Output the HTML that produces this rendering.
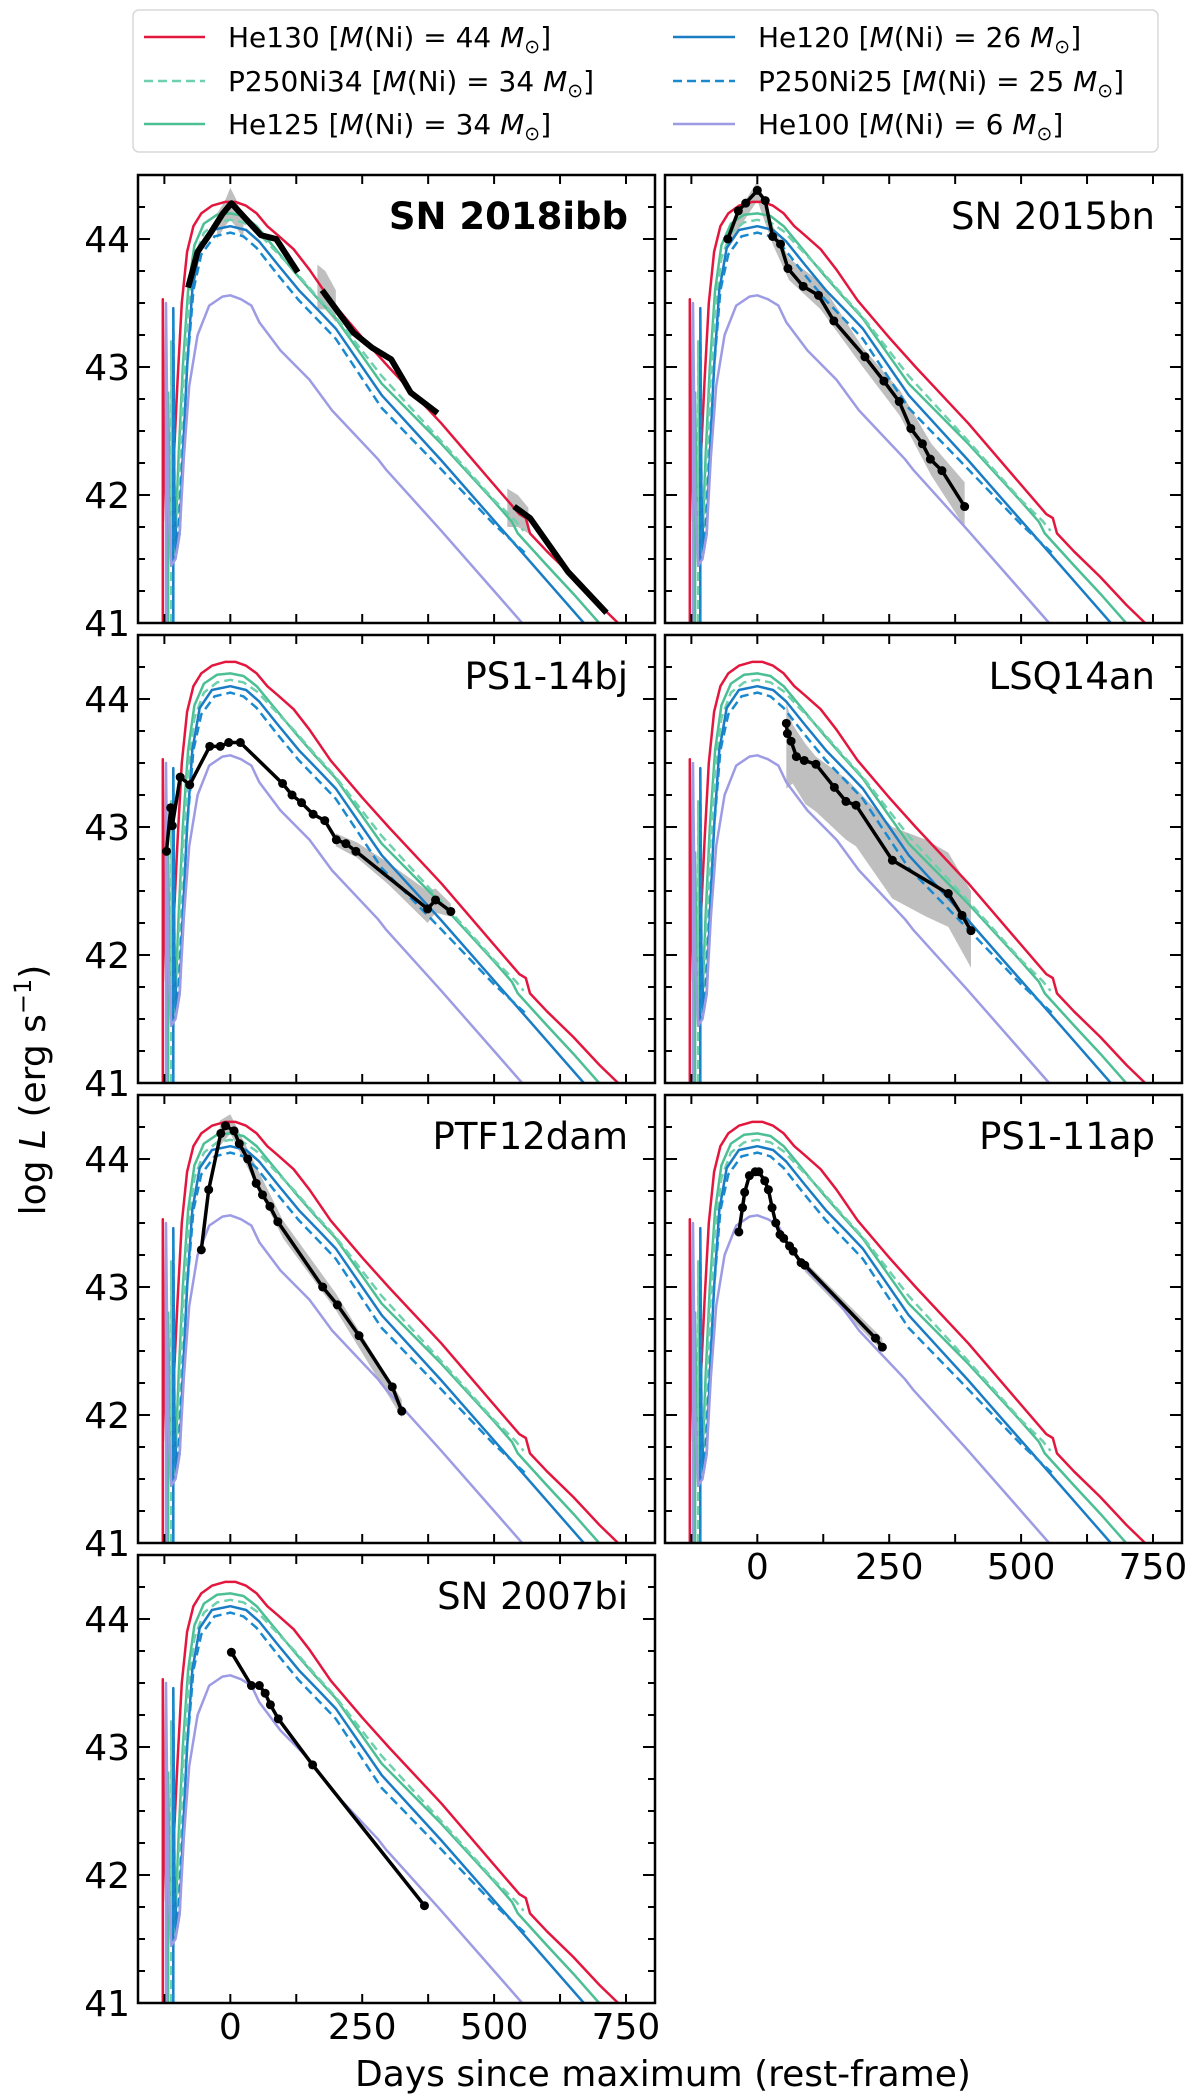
<!DOCTYPE html>
<html><head><meta charset="utf-8"><title>PISN light curves</title>
<style>
html,body{margin:0;padding:0;background:#fff;}
svg{display:block;font-family:"DejaVu Sans","Liberation Sans",sans-serif;}
</style></head>
<body>
<svg id="fig" width="1200" height="2100" viewBox="0 0 1200 2100" xmlns="http://www.w3.org/2000/svg">
<rect x="0" y="0" width="1200" height="2100" fill="#fff"/>
<g>
<rect x="133" y="10" width="1025" height="142" rx="6" fill="#fff" stroke="#d8d8d8" stroke-width="1.5"/>
<g><line x1="144" y1="37" x2="205" y2="37" stroke="#e3173e" stroke-width="2.5"/><text x="228" y="47" font-size="28">He130 [<tspan font-style="italic">M</tspan>(Ni) = 44 <tspan font-style="italic">M</tspan><tspan font-size="19" dy="6">⊙</tspan><tspan dy="-6">]</tspan></text></g>
<g><line x1="144" y1="81" x2="205" y2="81" stroke="#6fd0ad" stroke-width="2.5" stroke-dasharray="9,5"/><text x="228" y="91" font-size="28">P250Ni34 [<tspan font-style="italic">M</tspan>(Ni) = 34 <tspan font-style="italic">M</tspan><tspan font-size="19" dy="6">⊙</tspan><tspan dy="-6">]</tspan></text></g>
<g><line x1="144" y1="124" x2="205" y2="124" stroke="#4cbf94" stroke-width="2.5"/><text x="228" y="134" font-size="28">He125 [<tspan font-style="italic">M</tspan>(Ni) = 34 <tspan font-style="italic">M</tspan><tspan font-size="19" dy="6">⊙</tspan><tspan dy="-6">]</tspan></text></g>
<g><line x1="673" y1="37" x2="735" y2="37" stroke="#1a7cc4" stroke-width="2.5"/><text x="758" y="47" font-size="28">He120 [<tspan font-style="italic">M</tspan>(Ni) = 26 <tspan font-style="italic">M</tspan><tspan font-size="19" dy="6">⊙</tspan><tspan dy="-6">]</tspan></text></g>
<g><line x1="673" y1="81" x2="735" y2="81" stroke="#1a8ad0" stroke-width="2.5" stroke-dasharray="9,5"/><text x="758" y="91" font-size="28">P250Ni25 [<tspan font-style="italic">M</tspan>(Ni) = 25 <tspan font-style="italic">M</tspan><tspan font-size="19" dy="6">⊙</tspan><tspan dy="-6">]</tspan></text></g>
<g><line x1="673" y1="124" x2="735" y2="124" stroke="#9d9be3" stroke-width="2.5"/><text x="758" y="134" font-size="28">He100 [<tspan font-style="italic">M</tspan>(Ni) = 6 <tspan font-style="italic">M</tspan><tspan font-size="19" dy="6">⊙</tspan><tspan dy="-6">]</tspan></text></g>
</g>
<text transform="translate(45,1090) rotate(-90)" text-anchor="middle" font-size="36">log <tspan font-style="italic">L</tspan> (erg s<tspan font-size="24" dy="-14">−1</tspan><tspan dy="14">)</tspan></text>
<text x="663" y="2086" text-anchor="middle" font-size="36">Days since maximum (rest-frame)</text>
<g id="panels"></g>
</svg>
<script>
// ---- model light curves (day since max, log L) ----
const he130Days = [-128,-128,-126,-122,-116,-108,-100,-92,-82,-70,-55,-35,-10,10,30,50,70,90,120,150,190,250,300,400,500,548,560,568,600,650,700,735];
const he130Lum  = [41.0,43.53,42.5,41.8,41.7,42.2,42.9,43.5,43.9,44.1,44.2,44.26,44.29,44.29,44.26,44.2,44.1,44.03,43.92,43.76,43.52,43.23,43.0,42.56,42.08,41.85,41.82,41.7,41.56,41.36,41.14,41.0];
const he125Days = [-118,-118,-114,-110,-104,-98,-90,-80,-68,-50,-25,0,25,50,80,120,160,200,287,400,500,534,545,600,650,699];
const he125Lum  = [41.0,42.8,41.7,41.55,41.7,42.3,43.0,43.6,43.95,44.12,44.19,44.2,44.18,44.1,43.95,43.75,43.56,43.38,42.87,42.4,41.95,41.79,41.7,41.45,41.23,41.0];
const p34Days = [-112,-112,-110,-104,-98,-90,-80,-68,-50,-25,0,25,50,80,120,160,200,287,400,500,540,556];
const p34Lum  = [41.0,43.2,41.6,41.55,42.0,42.8,43.45,43.85,44.05,44.13,44.15,44.13,44.06,43.93,43.76,43.57,43.39,42.93,42.42,41.96,41.8,41.72];
const he120Days = [-108,-108,-106,-102,-96,-90,-82,-72,-58,-35,0,30,55,90,130,170,200,287,400,500,530,600,670];
const he120Lum  = [41.0,43.46,42.0,41.55,41.7,42.3,43.0,43.6,43.93,44.07,44.1,44.07,43.98,43.8,43.6,43.43,43.3,42.78,42.27,41.8,41.66,41.33,41.0];
const p25Days = [-108,-108,-105,-100,-92,-82,-70,-55,-30,0,25,50,90,130,170,200,287,400,500,558];
const p25Lum  = [41.0,43.4,41.6,41.6,42.2,43.0,43.6,43.88,44.02,44.05,44.02,43.93,43.72,43.52,43.35,43.22,42.68,42.2,41.77,41.55];
const he100Days = [-122,-122,-118,-112,-104,-96,-88,-78,-62,-40,-15,0,20,40,55,95,150,193,280,295,400,500,553];
const he100Lum  = [41.0,43.5,42.0,41.45,41.5,41.7,42.3,42.85,43.25,43.48,43.55,43.56,43.53,43.48,43.35,43.13,42.9,42.66,42.28,42.2,41.72,41.25,41.0];

// ---- observed light curves (null = gap) ----
const sn2018ibbDays = [-80,-62,-37,-14,2,58,87,128,null,174,233,269,305,342,393,null,538,568,640,713];
const sn2018ibbLum  = [43.62,43.9,44.05,44.2,44.28,44.03,44.0,43.74,null,43.6,43.27,43.15,43.06,42.8,42.64,null,41.91,41.82,41.4,41.08];
const sn2015bnDays = [-56,-36,-22,0,15,29,44,58,87,116,145,204,240,269,291,313,328,350,393];
const sn2015bnLum  = [44.0,44.22,44.28,44.38,44.3,44.02,43.96,43.77,43.63,43.56,43.36,43.08,42.89,42.73,42.52,42.4,42.28,42.19,41.91];
const ps114bjDays = [-121,-113,-110,-95,-77,-39,-19,-3,19,99,117,135,157,179,201,219,238,374,389,418];
const ps114bjLum  = [42.81,43.15,43.01,43.39,43.33,43.63,43.63,43.66,43.66,43.34,43.25,43.19,43.1,43.05,42.9,42.87,42.81,42.36,42.43,42.34];
const lsq14anDays = [55,57,64,74,89,111,146,168,187,256,362,388,405];
const lsq14anLum  = [43.81,43.73,43.67,43.55,43.52,43.49,43.31,43.2,43.17,42.74,42.48,42.31,42.19];
const ptf12damDays = [-55,-41,-18,-9,7,17,33,49,61,75,90,175,203,244,307,325];
const ptf12damLum  = [43.29,43.76,44.2,44.26,44.22,44.12,44.0,43.81,43.72,43.63,43.51,43.0,42.86,42.62,42.22,42.03];
const ps111apDays = [-35,-28,-24,-15,-4,3,14,21,28,35,43,50,61,68,83,90,224,237];
const ps111apLum  = [43.43,43.62,43.74,43.87,43.9,43.9,43.83,43.76,43.62,43.5,43.41,43.38,43.32,43.28,43.19,43.17,42.6,42.53];
const sn2007biDays = [2,40,55,66,76,91,156,368];
const sn2007biLum  = [43.74,43.48,43.48,43.42,43.33,43.22,42.86,41.76];

// ---- uncertainty bands ----
const band2018ibbDays = [-25,-10,0,10,25,null,165,180,200,null,525,545,565];
const band2018ibbLo   = [44.0,44.1,44.15,44.1,44.0,null,43.45,43.45,43.35,null,41.75,41.75,41.7];
const band2018ibbHi   = [44.2,44.3,44.4,44.32,44.15,null,43.8,43.75,43.6,null,42.05,42.0,41.9];
const band2015bnDays = [-56,0,30,60,120,200,270,330,393];
const band2015bnLo   = [43.95,44.3,43.95,43.68,43.45,43.0,42.62,42.15,41.75];
const band2015bnHi   = [44.08,44.45,44.1,43.85,43.66,43.15,42.82,42.4,42.1];
const band14bjDays = [200,240,300,374,389,418];
const band14bjLo   = [42.85,42.76,42.55,42.25,42.33,42.3];
const band14bjHi   = [42.95,42.88,42.72,42.5,42.52,42.4];
const band14anDays = [55,67,91,111,168,187,256,320,362,405];
const band14anLo   = [43.3,43.34,43.18,43.12,42.9,42.85,42.44,42.3,42.22,41.9];
const band14anHi   = [43.97,43.8,43.65,43.55,43.38,43.3,43.0,42.9,42.8,42.5];
const band12damDays = [-20,0,100,200,325];
const band12damLo   = [44.1,44.2,43.38,42.82,41.98];
const band12damHi   = [44.3,44.35,43.52,42.95,42.12];
const band11apDays = [90,237];
const band11apLo   = [43.12,42.5];
const band11apHi   = [43.2,42.6];

const yTickValues = [41,42,43,44];
const xTickLabels = [0,250,500,750];

const NS = 'http://www.w3.org/2000/svg';
const XMIN = -175, XMAX = 805, YMIN = 41, YMAX = 44.5;
const W = 517, H = 448;
const colX = [138, 665];
const rowY = [175, 635, 1095, 1555];

const models = [
  {name:'he130', d:he130Days, l:he130Lum, c:'#e3173e', dash:null},
  {name:'he125', d:he125Days, l:he125Lum, c:'#4cbf94', dash:null},
  {name:'p250ni34', d:p34Days, l:p34Lum, c:'#6fd0ad', dash:'9,5'},
  {name:'he120', d:he120Days, l:he120Lum, c:'#1a7cc4', dash:null},
  {name:'p250ni25', d:p25Days, l:p25Lum, c:'#1a8ad0', dash:'9,5'},
  {name:'he100', d:he100Days, l:he100Lum, c:'#9d9be3', dash:null}
];
const panels = [
  {label:'SN 2018ibb', bold:true, col:0,row:0, od:sn2018ibbDays, ol:sn2018ibbLum, bd:band2018ibbDays, blo:band2018ibbLo, bhi:band2018ibbHi, dots:false, ylab:true, xlab:false},
  {label:'SN 2015bn', col:1,row:0, od:sn2015bnDays, ol:sn2015bnLum, bd:band2015bnDays, blo:band2015bnLo, bhi:band2015bnHi, dots:true, ylab:false, xlab:false},
  {label:'PS1-14bj', col:0,row:1, od:ps114bjDays, ol:ps114bjLum, bd:band14bjDays, blo:band14bjLo, bhi:band14bjHi, dots:true, ylab:true, xlab:false},
  {label:'LSQ14an', col:1,row:1, od:lsq14anDays, ol:lsq14anLum, bd:band14anDays, blo:band14anLo, bhi:band14anHi, dots:true, ylab:false, xlab:false},
  {label:'PTF12dam', col:0,row:2, od:ptf12damDays, ol:ptf12damLum, bd:band12damDays, blo:band12damLo, bhi:band12damHi, dots:true, ylab:true, xlab:false},
  {label:'PS1-11ap', col:1,row:2, od:ps111apDays, ol:ps111apLum, bd:band11apDays, blo:band11apLo, bhi:band11apHi, dots:true, ylab:false, xlab:true},
  {label:'SN 2007bi', col:0,row:3, od:sn2007biDays, ol:sn2007biLum, bd:[], blo:[], bhi:[], dots:true, ylab:true, xlab:true}
];

function mk(tag, attrs, parent){
  const e = document.createElementNS(NS, tag);
  for (const k in attrs) e.setAttribute(k, attrs[k]);
  if (parent) parent.appendChild(e);
  return e;
}
function slug(s){ return s.toLowerCase().replace(/[^a-z0-9]+/g,'-'); }

const root = document.getElementById('panels');
panels.forEach((p, i) => {
  const x0 = colX[p.col], y0 = rowY[p.row];
  const sx = d => x0 + (d - XMIN) / (XMAX - XMIN) * W;
  const sy = v => y0 + H - (v - YMIN) / (YMAX - YMIN) * H;
  const g = mk('g', {}, root);
  
  
  const cp = mk('clipPath', {id:'clip'+i}, g);
  mk('rect', {x:x0, y:y0, width:W, height:H}, cp);
  const plot = mk('g', {'clip-path':'url(#clip'+i+')'}, g);

  // bands
  let seg = [];
  const flushBand = () => {
    if (seg.length > 1) {
      const pts = seg.map(k => sx(p.bd[k]) + ',' + sy(p.bhi[k]))
        .concat(seg.slice().reverse().map(k => sx(p.bd[k]) + ',' + sy(p.blo[k])));
      const poly = mk('polygon', {points: pts.join(' '), fill:'#b4b4b4', 'fill-opacity':'0.85'}, plot);
      
      
    }
    seg = [];
  };
  p.bd.forEach((d, k) => { if (d === null) flushBand(); else seg.push(k); });
  flushBand();

  // models
  models.forEach(m => {
    const pts = m.d.map((d, k) => sx(d).toFixed(1) + ',' + sy(m.l[k]).toFixed(1)).join(' ');
    const pl = mk('polyline', {points: pts, fill:'none', stroke:m.c, 'stroke-width':'2.5', 'stroke-linejoin':'round'}, plot);
    if (m.dash) pl.setAttribute('stroke-dasharray', m.dash);
    
    
  });

  // observed
  const lw = p.dots ? 3.5 : 6;
  let cur = [];
  const flushLine = () => {
    if (cur.length > 1) {
      const ol = mk('polyline', {points: cur.join(' '), fill:'none', stroke:'#000', 'stroke-width':lw, 'stroke-linejoin':'round'}, plot);
      
      
    }
    cur = [];
  };
  p.od.forEach((d, k) => { if (d === null) flushLine(); else cur.push(sx(d).toFixed(1) + ',' + sy(p.ol[k]).toFixed(1)); });
  flushLine();
  if (p.dots) {
    p.od.forEach((d, k) => {
      if (d === null) return;
      const c = mk('circle', {cx:sx(d), cy:sy(p.ol[k]), r:4.5, fill:'#000'}, plot);
      
      
    });
  }

  // ticks
  const tg = mk('g', {stroke:'#000', 'stroke-width':'2'}, g);
  
  
  for (let d = -125; d <= 750; d += 125) {
    const x = sx(d);
    mk('line', {x1:x, y1:y0+H, x2:x, y2:y0+H-9}, tg);
    mk('line', {x1:x, y1:y0, x2:x, y2:y0+9}, tg);
  }
  for (let v = 41; v <= 44.5; v += 0.25) {
    const y = sy(v);
    const len = Math.abs(v - Math.round(v)) < 1e-6 ? 12 : 7;
    mk('line', {x1:x0, y1:y, x2:x0+len, y2:y}, tg);
    mk('line', {x1:x0+W, y1:y, x2:x0+W-len, y2:y}, tg);
  }
  // frame
  const fr = mk('rect', {x:x0, y:y0, width:W, height:H, fill:'none', stroke:'#000', 'stroke-width':'2.5'}, g);
  
  

  if (p.ylab) {
    yTickValues.forEach(v => {
      const t = mk('text', {x:x0-8, y:sy(v)+13, 'text-anchor':'end', 'font-size':'36'}, g);
      t.textContent = v;
      
      
    });
  }
  if (p.xlab) {
    xTickLabels.forEach(d => {
      const t = mk('text', {x:sx(d), y:y0+H+36, 'text-anchor':'middle', 'font-size':'36'}, g);
      t.textContent = d;
      
      
    });
  }
  const lab = mk('text', {x:x0+W-27, y:y0+54, 'text-anchor':'end', 'font-size':'37'}, g);
  if (p.bold) lab.setAttribute('font-weight', 'bold');
  lab.textContent = p.label;
  
  
});
</script>
</body></html>
